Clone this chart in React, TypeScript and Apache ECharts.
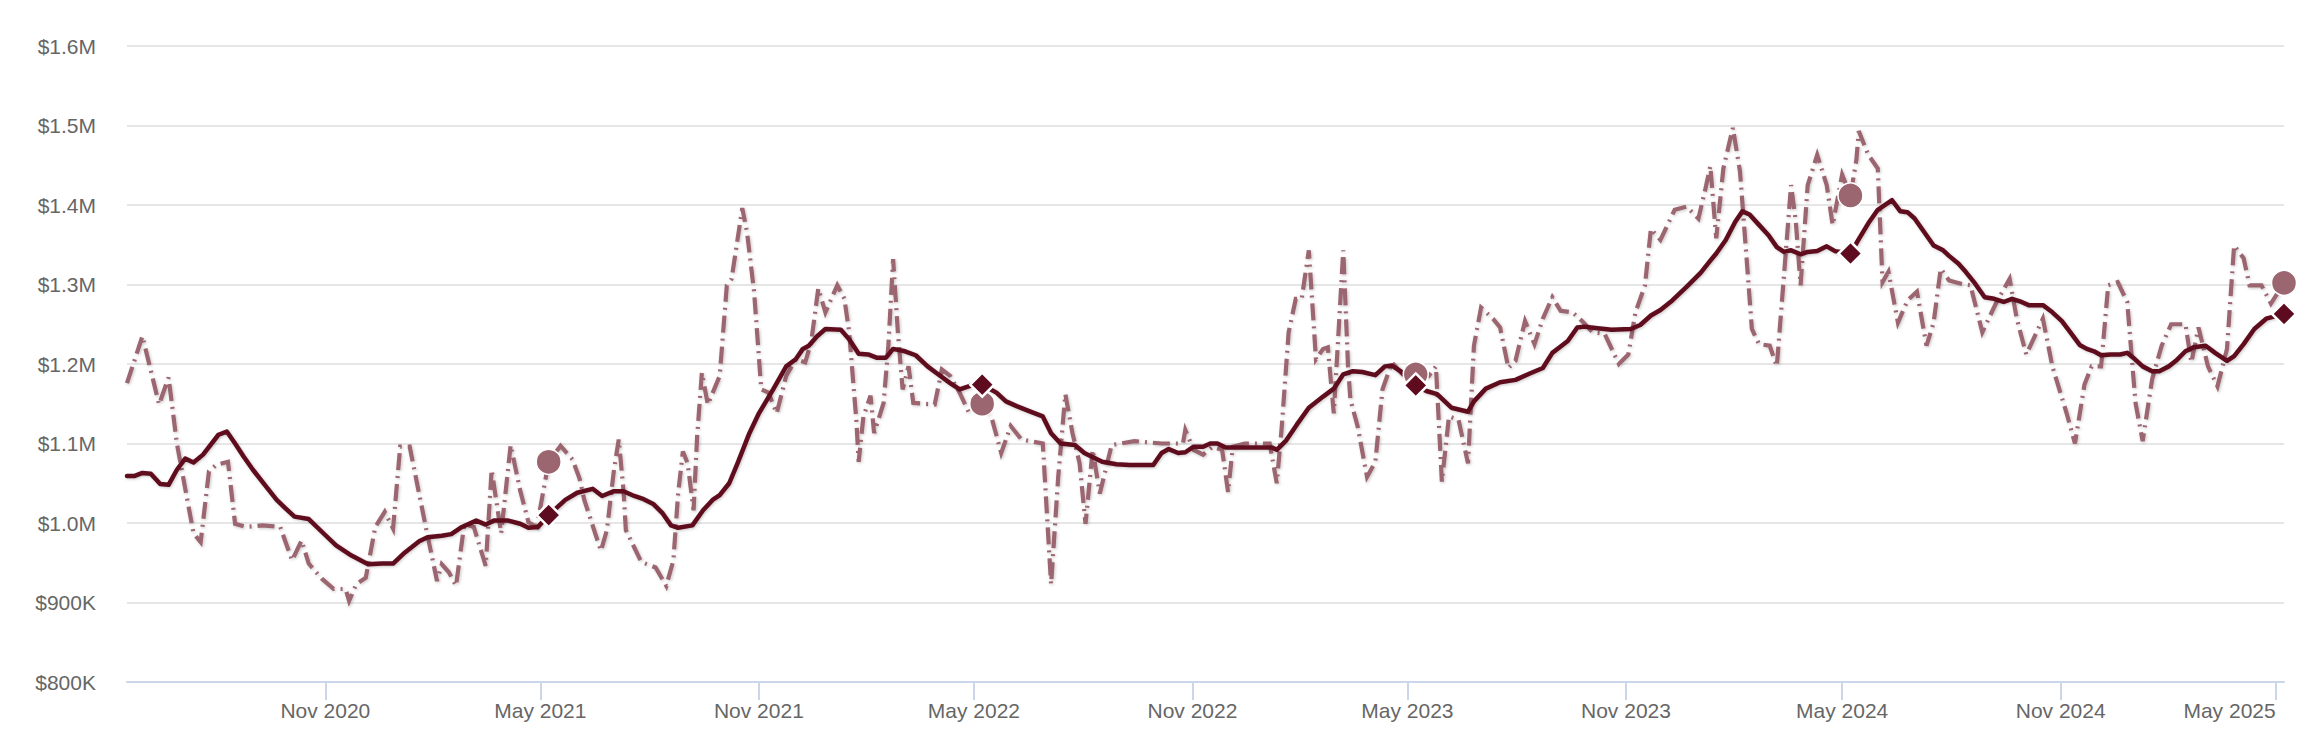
import React, { useRef, useEffect } from 'react'
import * as echarts from 'echarts'

// values in $K
const maDates = [
  '2020-05-18', '2020-05-24', '2020-05-31', '2020-06-07', '2020-06-15', '2020-06-22', '2020-06-29', '2020-07-06',
  '2020-07-13', '2020-07-21', '2020-08-03', '2020-08-10', '2020-08-17', '2020-08-24', '2020-09-01', '2020-09-11',
  '2020-09-21', '2020-09-28', '2020-10-06', '2020-10-18', '2020-10-29', '2020-11-10', '2020-11-23', '2020-12-07',
  '2020-12-19', '2020-12-28', '2021-01-07', '2021-01-19', '2021-01-26', '2021-02-07', '2021-02-15', '2021-02-24',
  '2021-03-08', '2021-03-16', '2021-03-23', '2021-04-04', '2021-04-14', '2021-04-21', '2021-04-29', '2021-05-08',
  '2021-05-22', '2021-06-01', '2021-06-14', '2021-06-22', '2021-07-02', '2021-07-10', '2021-07-19', '2021-07-27',
  '2021-08-04', '2021-08-12', '2021-08-19', '2021-08-25', '2021-09-06', '2021-09-15', '2021-09-23', '2021-09-29',
  '2021-10-07', '2021-10-14', '2021-10-24', '2021-11-01', '2021-11-13', '2021-11-24', '2021-12-02', '2021-12-08',
  '2021-12-13', '2021-12-20', '2021-12-27', '2022-01-09', '2022-01-16', '2022-01-24', '2022-02-01', '2022-02-08',
  '2022-02-16', '2022-02-22', '2022-03-04', '2022-03-13', '2022-03-23', '2022-03-31', '2022-04-11', '2022-04-19',
  '2022-04-29', '2022-05-08', '2022-05-20', '2022-05-28', '2022-06-06', '2022-06-16', '2022-06-28', '2022-07-05',
  '2022-07-13', '2022-07-25', '2022-08-02', '2022-08-17', '2022-08-29', '2022-09-09', '2022-09-29', '2022-10-06',
  '2022-10-12', '2022-10-20', '2022-10-26', '2022-11-02', '2022-11-10', '2022-11-16', '2022-11-22', '2022-11-29',
  '2022-12-15', '2023-01-07', '2023-01-11', '2023-01-19', '2023-01-28', '2023-02-07', '2023-02-19', '2023-02-28',
  '2023-03-08', '2023-03-16', '2023-03-24', '2023-04-04', '2023-04-12', '2023-04-18', '2023-04-26', '2023-05-03',
  '2023-05-08', '2023-05-17', '2023-05-26', '2023-06-07', '2023-06-21', '2023-06-26', '2023-07-06', '2023-07-18',
  '2023-07-31', '2023-08-12', '2023-08-23', '2023-08-31', '2023-09-07', '2023-09-13', '2023-09-21', '2023-09-27',
  '2023-10-08', '2023-10-20', '2023-11-05', '2023-11-13', '2023-11-22', '2023-11-30', '2023-12-10', '2023-12-22',
  '2024-01-03', '2024-01-11', '2024-01-16', '2024-01-24', '2024-02-01', '2024-02-07', '2024-02-13', '2024-02-21',
  '2024-02-29', '2024-03-07', '2024-03-13', '2024-03-19', '2024-03-27', '2024-04-02', '2024-04-10', '2024-04-18',
  '2024-04-25', '2024-05-08', '2024-05-15', '2024-05-23', '2024-05-31', '2024-06-08', '2024-06-12', '2024-06-19',
  '2024-06-25', '2024-07-01', '2024-07-09', '2024-07-17', '2024-07-25', '2024-07-30', '2024-08-07', '2024-08-13',
  '2024-08-21', '2024-08-29', '2024-09-06', '2024-09-14', '2024-09-21', '2024-09-29', '2024-10-05', '2024-10-17',
  '2024-10-25', '2024-11-02', '2024-11-09', '2024-11-17', '2024-11-23', '2024-11-29', '2024-12-05', '2024-12-13',
  '2024-12-21', '2024-12-27', '2025-01-01', '2025-01-09', '2025-01-17', '2025-01-23', '2025-01-31', '2025-02-06',
  '2025-02-14', '2025-02-21', '2025-03-03', '2025-03-11', '2025-03-21', '2025-03-27', '2025-04-04', '2025-04-13',
  '2025-04-23', '2025-05-08'
]
const maValues = [
  1059, 1059, 1063, 1062, 1049, 1048, 1067, 1081, 1076, 1086, 1111, 1115, 1100, 1084, 1067, 1048,
  1029, 1019, 1008, 1005, 989, 972, 959, 948, 949, 949, 963, 977, 982, 984, 986, 995,
  1003, 998, 1003, 1003, 999, 994, 995, 1010, 1029, 1038, 1043, 1034, 1040, 1040, 1034, 1030,
  1024, 1012, 997, 994, 997, 1016, 1029, 1035, 1050, 1075, 1113, 1138, 1168, 1197, 1206, 1219,
  1223, 1235, 1244, 1243, 1231, 1213, 1212, 1208, 1208, 1219, 1216, 1211, 1197, 1188, 1176, 1168,
  1173, 1174, 1164, 1153, 1147, 1141, 1134, 1113, 1100, 1098, 1088, 1077, 1074, 1073, 1073, 1088,
  1093, 1088, 1089, 1096, 1096, 1100, 1100, 1095, 1095, 1095, 1092, 1104, 1124, 1145, 1159, 1169,
  1187, 1191, 1190, 1186, 1197, 1198, 1190, 1181, 1173, 1166, 1162, 1145, 1140, 1153, 1169, 1177,
  1180, 1188, 1195, 1214, 1222, 1229, 1246, 1247, 1245, 1243, 1244, 1249, 1261, 1268, 1280, 1297,
  1315, 1330, 1339, 1356, 1379, 1392, 1388, 1375, 1362, 1347, 1341, 1343, 1338, 1341, 1342, 1348,
  1342, 1339, 1357, 1377, 1394, 1402, 1406, 1392, 1391, 1383, 1366, 1349, 1343, 1336, 1326, 1316,
  1301, 1284, 1282, 1278, 1282, 1278, 1274, 1274, 1265, 1254, 1240, 1224, 1219, 1216, 1211, 1212,
  1212, 1214, 1208, 1197, 1191, 1191, 1197, 1204, 1216, 1221, 1223, 1214, 1204, 1210, 1225, 1244,
  1257, 1263
]

const priceDates = [
  '2020-05-18', '2020-05-31', '2020-06-14', '2020-06-22', '2020-06-29', '2020-07-13', '2020-07-19', '2020-07-26',
  '2020-08-01', '2020-08-11', '2020-08-17', '2020-08-26', '2020-09-09', '2020-09-24', '2020-10-04', '2020-10-12',
  '2020-10-18', '2020-10-29', '2020-11-08', '2020-11-18', '2020-11-21', '2020-11-27', '2020-12-05', '2020-12-13',
  '2020-12-21', '2020-12-28', '2021-01-03', '2021-01-11', '2021-01-24', '2021-02-03', '2021-02-07', '2021-02-13',
  '2021-02-19', '2021-02-26', '2021-03-06', '2021-03-16', '2021-03-21', '2021-03-29', '2021-04-06', '2021-04-14',
  '2021-04-21', '2021-04-28', '2021-05-08', '2021-05-18', '2021-05-28', '2021-06-03', '2021-06-07', '2021-06-21',
  '2021-06-26', '2021-07-02', '2021-07-06', '2021-07-10', '2021-07-12', '2021-07-25', '2021-08-06', '2021-08-15',
  '2021-08-21', '2021-08-25', '2021-08-29', '2021-09-02', '2021-09-07', '2021-09-10', '2021-09-14', '2021-09-19',
  '2021-09-29', '2021-10-05', '2021-10-09', '2021-10-18', '2021-10-22', '2021-10-28', '2021-11-03', '2021-11-09',
  '2021-11-16', '2021-11-24', '2021-12-02', '2021-12-10', '2021-12-15', '2021-12-21', '2021-12-27', '2022-01-06',
  '2022-01-12', '2022-01-16', '2022-01-22', '2022-01-24', '2022-01-28', '2022-02-03', '2022-02-06', '2022-02-14',
  '2022-02-18', '2022-02-22', '2022-02-26', '2022-03-02', '2022-03-07', '2022-03-11', '2022-03-29', '2022-04-04',
  '2022-04-11', '2022-04-19', '2022-04-27', '2022-05-08', '2022-05-16', '2022-05-24', '2022-06-01', '2022-06-10',
  '2022-06-28', '2022-07-05', '2022-07-11', '2022-07-17', '2022-07-23', '2022-07-29', '2022-08-03', '2022-08-09',
  '2022-08-15', '2022-08-25', '2022-09-13', '2022-10-06', '2022-10-24', '2022-10-26', '2022-11-02', '2022-11-10',
  '2022-11-18', '2022-11-26', '2022-12-01', '2022-12-05', '2022-12-15', '2023-01-05', '2023-01-11', '2023-01-15',
  '2023-01-21', '2023-01-27', '2023-02-01', '2023-02-07', '2023-02-13', '2023-02-19', '2023-02-23', '2023-02-28',
  '2023-03-04', '2023-03-08', '2023-03-12', '2023-03-14', '2023-03-20', '2023-03-28', '2023-04-04', '2023-04-10',
  '2023-04-18', '2023-04-27', '2023-05-03', '2023-05-08', '2023-05-19', '2023-05-25', '2023-05-30', '2023-06-05',
  '2023-06-13', '2023-06-21', '2023-06-26', '2023-07-02', '2023-07-12', '2023-07-18', '2023-07-25', '2023-07-31',
  '2023-08-08', '2023-08-16', '2023-08-23', '2023-08-31', '2023-09-07', '2023-09-17', '2023-09-25', '2023-10-04',
  '2023-10-14', '2023-10-26', '2023-11-03', '2023-11-09', '2023-11-17', '2023-11-22', '2023-11-30', '2023-12-12',
  '2023-12-22', '2024-01-01', '2024-01-07', '2024-01-11', '2024-01-16', '2024-01-22', '2024-01-30', '2024-02-05',
  '2024-02-11', '2024-02-15', '2024-02-21', '2024-03-01', '2024-03-07', '2024-03-13', '2024-03-19', '2024-03-23',
  '2024-03-27', '2024-04-02', '2024-04-10', '2024-04-18', '2024-04-23', '2024-05-01', '2024-05-08', '2024-05-13',
  '2024-05-15', '2024-05-23', '2024-05-31', '2024-06-04', '2024-06-09', '2024-06-17', '2024-06-25', '2024-07-03',
  '2024-07-11', '2024-07-17', '2024-07-23', '2024-07-30', '2024-08-09', '2024-08-17', '2024-08-27', '2024-09-08',
  '2024-09-19', '2024-09-25', '2024-10-03', '2024-10-17', '2024-10-25', '2024-11-06', '2024-11-13', '2024-11-21',
  '2024-11-27', '2024-12-05', '2024-12-11', '2024-12-19', '2024-12-27', '2025-01-03', '2025-01-09', '2025-01-17',
  '2025-01-25', '2025-02-02', '2025-02-14', '2025-02-19', '2025-02-25', '2025-03-05', '2025-03-13', '2025-03-21',
  '2025-03-27', '2025-04-04', '2025-04-09', '2025-04-19', '2025-04-27', '2025-05-08'
]
const priceValues = [
  1176, 1235, 1149, 1183, 1100, 987, 976, 1065, 1073, 1077, 999, 995, 997, 995, 953, 978,
  949, 930, 917, 917, 902, 923, 931, 995, 1014, 993, 1096, 1096, 999, 927, 948, 938,
  921, 999, 995, 946, 1067, 987, 1098, 1041, 1001, 995, 1077, 1097, 1080, 1056, 1029, 965,
  991, 1067, 1105, 1041, 991, 951, 944, 921, 953, 1037, 1090, 1075, 1016, 1109, 1189, 1149,
  1185, 1299, 1307, 1396, 1366, 1290, 1168, 1164, 1138, 1185, 1206, 1202, 1227, 1295, 1265, 1299,
  1282, 1240, 1130, 1077, 1134, 1160, 1113, 1151, 1223, 1332, 1240, 1168, 1197, 1151, 1149, 1193,
  1185, 1164, 1138, 1150, 1132, 1088, 1122, 1105, 1100, 923, 1058, 1162, 1113, 1075, 999, 1092,
  1037, 1098, 1103, 1100, 1100, 1117, 1092, 1086, 1096, 1092, 1039, 1096, 1100, 1100, 1050, 1117,
  1240, 1282, 1282, 1343, 1206, 1219, 1221, 1138, 1240, 1343, 1197, 1155, 1122, 1058, 1077, 1168,
  1202, 1187, 1181, 1187, 1185, 1197, 1052, 1134, 1130, 1075, 1223, 1271, 1257, 1246, 1195, 1204,
  1254, 1225, 1257, 1284, 1267, 1265, 1254, 1240, 1238, 1200, 1212, 1265, 1299, 1370, 1356, 1394,
  1398, 1383, 1421, 1449, 1358, 1446, 1497, 1442, 1324, 1244, 1225, 1223, 1197, 1311, 1425, 1379,
  1299, 1425, 1463, 1425, 1375, 1438, 1412, 1457, 1493, 1463, 1446, 1303, 1316, 1252, 1280, 1291,
  1223, 1252, 1320, 1305, 1301, 1299, 1240, 1278, 1307, 1257, 1212, 1257, 1197, 1138, 1100, 1174,
  1197, 1197, 1299, 1303, 1278, 1151, 1103, 1181, 1223, 1250, 1250, 1202, 1246, 1197, 1172, 1219,
  1349, 1333, 1299, 1299, 1276, 1302
]

const markerDates = ['2021-05-08', '2022-05-08', '2023-05-08', '2024-05-08', '2025-05-08']
const xTickMonths = [
  '2020-11-01', '2021-05-01', '2021-11-01', '2022-05-01', '2022-11-01', '2023-05-01', '2023-11-01', '2024-05-01',
  '2024-11-01', '2025-05-01'
]
const monthNames = ['Jan', 'Feb', 'Mar', 'Apr', 'May', 'Jun', 'Jul', 'Aug', 'Sep', 'Oct', 'Nov', 'Dec']

const MA_COLOR = '#5e0b1f'
const PRICE_COLOR = '#9c6671'
const FONT = '"Liberation Sans", Arial, Helvetica, sans-serif'

const ts = (s: string) => {
  const [y, m, d] = s.split('-').map(Number)
  return new Date(y, m - 1, d).getTime()
}
const pairs = (dates: string[], values: number[]) => dates.map((d, i) => [ts(d), values[i]])
const markers = (dates: string[], values: number[]) =>
  markerDates.map(d => [ts(d), values[dates.indexOf(d)]])

const App: React.FC = () => {
  const chartRef = useRef<HTMLDivElement>(null)

  useEffect(() => {
    document.body.style.margin = '0'
    if (!chartRef.current) return
    const chart = echarts.init(chartRef.current, undefined, { renderer: 'svg' })

    const tickValues = xTickMonths.map(ts)
    const shadow = {
      shadowColor: 'rgba(0, 0, 0, 0.22)',
      shadowBlur: 3,
      shadowOffsetX: 1,
      shadowOffsetY: 1
    }

    chart.setOption({
      animation: false,
      backgroundColor: '#ffffff',
      textStyle: { fontFamily: FONT },
      grid: {
        left: 127,
        right: 32,
        top: 46,
        bottom: 60,
        outerBoundsMode: 'none'
      },
      xAxis: {
        type: 'value',
        min: ts(maDates[0]),
        max: ts(maDates[maDates.length - 1]),
        axisLine: { lineStyle: { color: '#ccd6eb', width: 2 } },
        axisTick: {
          customValues: tickValues,
          length: 18,
          lineStyle: { color: '#ccd6eb', width: 2 }
        },
        axisLabel: {
          customValues: tickValues,
          color: '#666666',
          fontSize: 21,
          fontFamily: FONT,
          margin: 18,
          alignMaxLabel: 'right',
          formatter: (v: number) => {
            const d = new Date(v)
            return `${monthNames[d.getMonth()]} ${d.getFullYear()}`
          }
        },
        splitLine: { show: false }
      },
      yAxis: {
        type: 'value',
        min: 800,
        max: 1600,
        interval: 100,
        axisLine: { show: false },
        axisTick: { show: false },
        axisLabel: {
          color: '#666666',
          fontSize: 21,
          fontFamily: FONT,
          margin: 31,
          padding: [8, 0, 0, 0],
          formatter: (v: number) => (v >= 1000 ? `$${(v / 1000).toFixed(1)}M` : `$${v}K`)
        },
        splitLine: { lineStyle: { color: '#e6e6e6', width: 2 } }
      },
      series: [
        {
          name: 'Price',
          type: 'line',
          data: pairs(priceDates, priceValues),
          showSymbol: false,
          symbol: 'none',
          lineStyle: {
            color: PRICE_COLOR,
            width: 4.2,
            type: [17, 6, 2, 6],
            cap: 'butt',
            join: 'miter',
            ...shadow
          },
          z: 2
        },
        {
          name: 'Moving average',
          type: 'line',
          data: pairs(maDates, maValues),
          showSymbol: false,
          symbol: 'none',
          lineStyle: {
            color: MA_COLOR,
            width: 4.5,
            join: 'round',
            cap: 'round',
            ...shadow
          },
          z: 3
        },
        {
          name: 'Price marker',
          type: 'scatter',
          data: markers(priceDates, priceValues),
          symbol: 'circle',
          symbolSize: 25,
          itemStyle: { color: PRICE_COLOR, opacity: 1, borderColor: '#ffffff', borderWidth: 1.5 },
          z: 4
        },
        {
          name: 'Average marker',
          type: 'scatter',
          data: markers(maDates, maValues),
          symbol: 'diamond',
          symbolSize: 24,
          itemStyle: { color: MA_COLOR, opacity: 1, borderColor: '#ffffff', borderWidth: 2.5 },
          z: 5
        }
      ]
    })

    return () => {
      chart.dispose()
    }
  }, [])

  return <div ref={chartRef} style={{ width: 2316, height: 742 }} />
}

export default App
